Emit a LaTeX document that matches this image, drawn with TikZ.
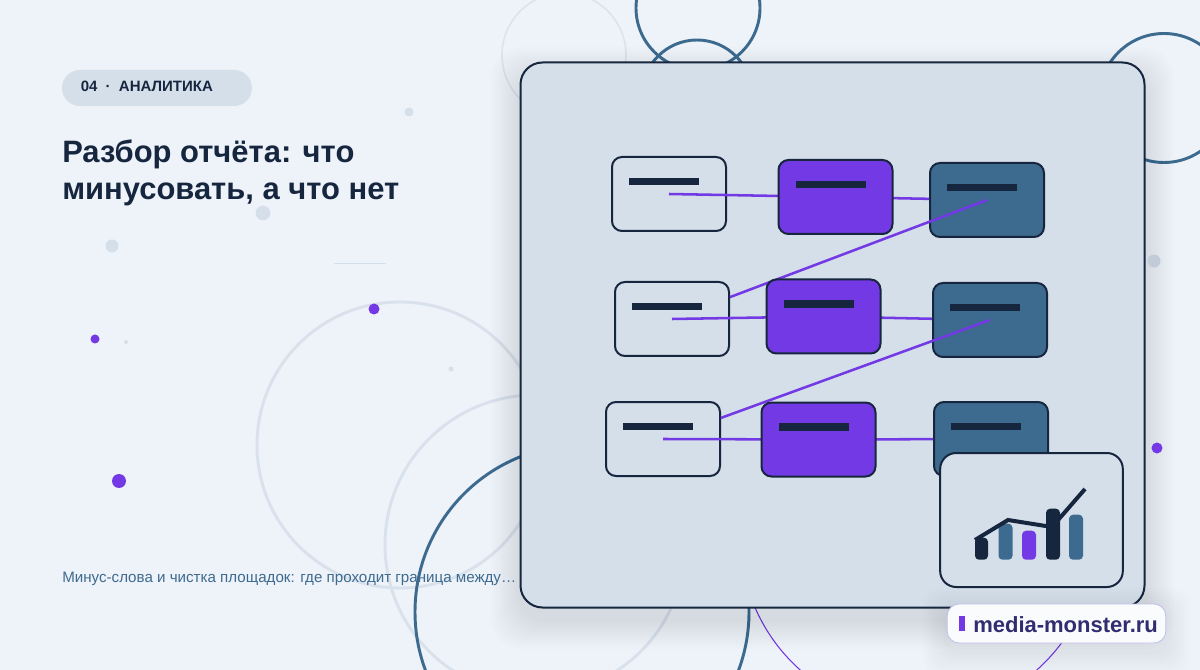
\documentclass[tikz,border=0pt]{standalone}
\usepackage{fontspec}
\setmainfont{Liberation Sans}
\usepackage{xcolor}
\definecolor{paper}{RGB}{238,242,249}
\definecolor{pale}{RGB}{213,223,234}
\definecolor{ink}{RGB}{22,38,63}
\definecolor{steel}{RGB}{61,107,143}
\definecolor{violet}{RGB}{114,57,228}
\usetikzlibrary{arrows.meta,positioning,fit,backgrounds,calc}
\tikzset{
  card/.style={draw=ink,line width=1.5pt,rounded corners=7.5pt,inner sep=0pt,%
    minimum width=85.5pt,minimum height=55.5pt},
  cardlight/.style={card,fill=pale},
  cardviolet/.style={card,fill=violet},
  cardsteel/.style={card,fill=steel},
  barmark/.style={fill=ink,inner sep=0pt,minimum width=52.5pt,minimum height=5.5pt},
  flow/.style={draw=violet,line width=1.9pt},
  ringpale/.style={draw=pale!85!paper,line width=2.2pt},
  ringsteel/.style={draw=steel,line width=2.2pt},
  dotpale/.style={circle,fill=pale,inner sep=0pt},
  dotviolet/.style={circle,fill=violet,inner sep=0pt},
  chartbar/.style={inner sep=0pt,rounded corners=3pt,minimum width=10.5pt,anchor=south},
}
\begin{document}
\begin{tikzpicture}[x=0.75pt,y=-0.75pt]
\useasboundingbox (0,0) rectangle (1200,670);
\begin{scope}[on background layer]
\fill[paper] (0,0) rectangle (1200,670);
% rings behind the panel
\begin{scope}
\clip (0,0) rectangle (1200,670);
\draw[ringpale] (400,445) circle (143);
\draw[ringpale] (535,545) circle (150);
\draw[draw=pale!75!paper,line width=1.2pt] (564,55) circle (62);
\draw[ringsteel] (582,612) circle (167);
\draw[ringsteel] (698,8) circle (62);
\draw[ringsteel] (697,95) circle (55);
\draw[ringsteel] (1164,98) circle (64.5);
\draw[draw=violet,line width=0.8pt] (918.5,537) circle (178);
\end{scope}
% shadow of the panel
\foreach \s in {1,...,12}
  \fill[ink,opacity=0.007,rounded corners=22] ({520-2.4*\s},{76-2.4*\s}) rectangle ({1145+2.4*\s},{620+2.4*\s});
\node[fill=pale,draw=ink,line width=1.5pt,rounded corners=16.5pt,inner sep=0pt,%
  minimum width=468pt,minimum height=408.75pt] (panel) at (832.5,335) {};
\end{scope}
% violet cards sit over the links
\node[cardviolet] (p1) at (835.5,197) {};
\node[cardviolet] (p2) at (823.5,316.5) {};
\node[cardviolet] (p3) at (818.5,439.5) {};
\begin{scope}[on background layer]
\node[cardlight] (l1) at (669,194) {};
\node[cardlight] (l2) at (672,319) {};
\node[cardlight] (l3) at (663,439) {};
\node[cardsteel] (s1) at (987,200) {};
\node[cardsteel] (s2) at (990,320) {};
\node[cardsteel] (s3) at (991,439) {};
\draw[flow] (l1.center) -- (p1.center);
\draw[flow] (p1.center) -- (s1);
\draw[flow] (s1.center) -- (l2);
\draw[flow] (l2.center) -- (p2.center);
\draw[flow] (p2.center) -- (s2);
\draw[flow] (s2.center) -- (l3);
\draw[flow] (l3.center) -- (p3.center);
\draw[flow] (p3.center) -- (s3);
\end{scope}
\foreach \n in {l1,l2,l3,p1,p2,p3,s1,s2,s3}
  \node[barmark] (bar\n) at ($(\n.center)+(-5,-12.5)$) {};
% small chart
\node[fill=pale,draw=ink,line width=1.5pt,rounded corners=12pt,inner sep=0pt,%
  minimum width=137pt,minimum height=100.5pt] (chart) at (1031.5,520) {};
\node[chartbar,fill=ink,minimum height=16.5pt,minimum width=9.75pt] (c1) at (981.5,560) {};
\node[chartbar,fill=steel,minimum height=27pt] (c2) at (1005.5,560) {};
\node[chartbar,fill=violet,minimum height=21.75pt] (c3) at (1029,560) {};
\node[chartbar,fill=ink,minimum height=38.25pt] (c4) at (1053,560) {};
\node[chartbar,fill=steel,minimum height=33.75pt] (c5) at (1076,560) {};
\coordinate (t1) at (975,540);
\coordinate (t2) at (1008,520);
\coordinate (t3) at (1052,527);
\coordinate (t4) at (1085,489);
\draw[ink,line width=3pt] (t1) -- (t2) -- (t3) -- (t4);
% dots
\node[dotpale,minimum size=6.75pt] (d1) at (409,112) {};
\node[dotpale,minimum size=11pt] (d2) at (263,213) {};
\node[dotpale,minimum size=9.75pt] (d3) at (112,246) {};
\node[dotpale,fill=pale!90!ink,minimum size=9.75pt] (d4) at (1154,261) {};
\node[dotpale,minimum size=3pt] (d5) at (126,342) {};
\node[dotpale,minimum size=3.75pt] (d6) at (451,369) {};
\node[dotviolet,minimum size=8.25pt] (d7) at (374,309) {};
\node[dotviolet,minimum size=6.75pt] (d8) at (95,339) {};
\node[dotviolet,minimum size=10.5pt] (d9) at (119,481) {};
\node[dotviolet,minimum size=8.25pt] (d10) at (1157,448) {};
\coordinate (h1) at (334,263);
\coordinate (h2) at (386,263);
\draw[pale,line width=0.6pt] (h1) -- (h2);
% texts
\node[fill=pale,rounded corners=13.5pt,inner sep=0pt,minimum width=142.5pt,minimum height=27pt] (pill) at (157,88) {};
\node[anchor=base west,inner sep=0pt,font=\bfseries\fontsize{11.25pt}{13pt}\selectfont,text=ink] (tag) at (80.5,92) {04\hspace{6.2pt}·\hspace{6.2pt}АНАЛИТИКА};
\node[anchor=base west,inner sep=0pt,font=\bfseries\fontsize{23.2pt}{27.75pt}\selectfont,text=ink,align=left] (title) at (62,200) {Разбор отчёта: что\\минусовать, а что нет};
\node[anchor=base west,inner sep=0pt,font=\fontsize{11.35pt}{13pt}\selectfont,text=steel] (sub) at (62,582) {Минус-слова и чистка площадок: где проходит граница между…};
% site badge
\foreach \s in {1,...,8}
  \fill[ink,opacity=0.007,rounded corners=12] ({947-3*\s},{612-3*\s}) rectangle ({1166+3*\s},{651+3*\s});
\node[fill=white!70!paper,draw=violet!20!pale,line width=0.6pt,rounded corners=9pt,inner sep=0pt,%
  minimum width=164pt,minimum height=29.25pt] (badge) at (1056.5,623.5) {};
\node[fill=violet,inner sep=0pt,minimum width=4.5pt,minimum height=11.25pt] (mark) at (962,623.5) {};
\node[anchor=base west,inner sep=0pt,font=\bfseries\fontsize{16.5pt}{20pt}\selectfont,text=ink!70!violet] (site) at (973,632) {media-monster.ru};
\end{tikzpicture}
\end{document}
